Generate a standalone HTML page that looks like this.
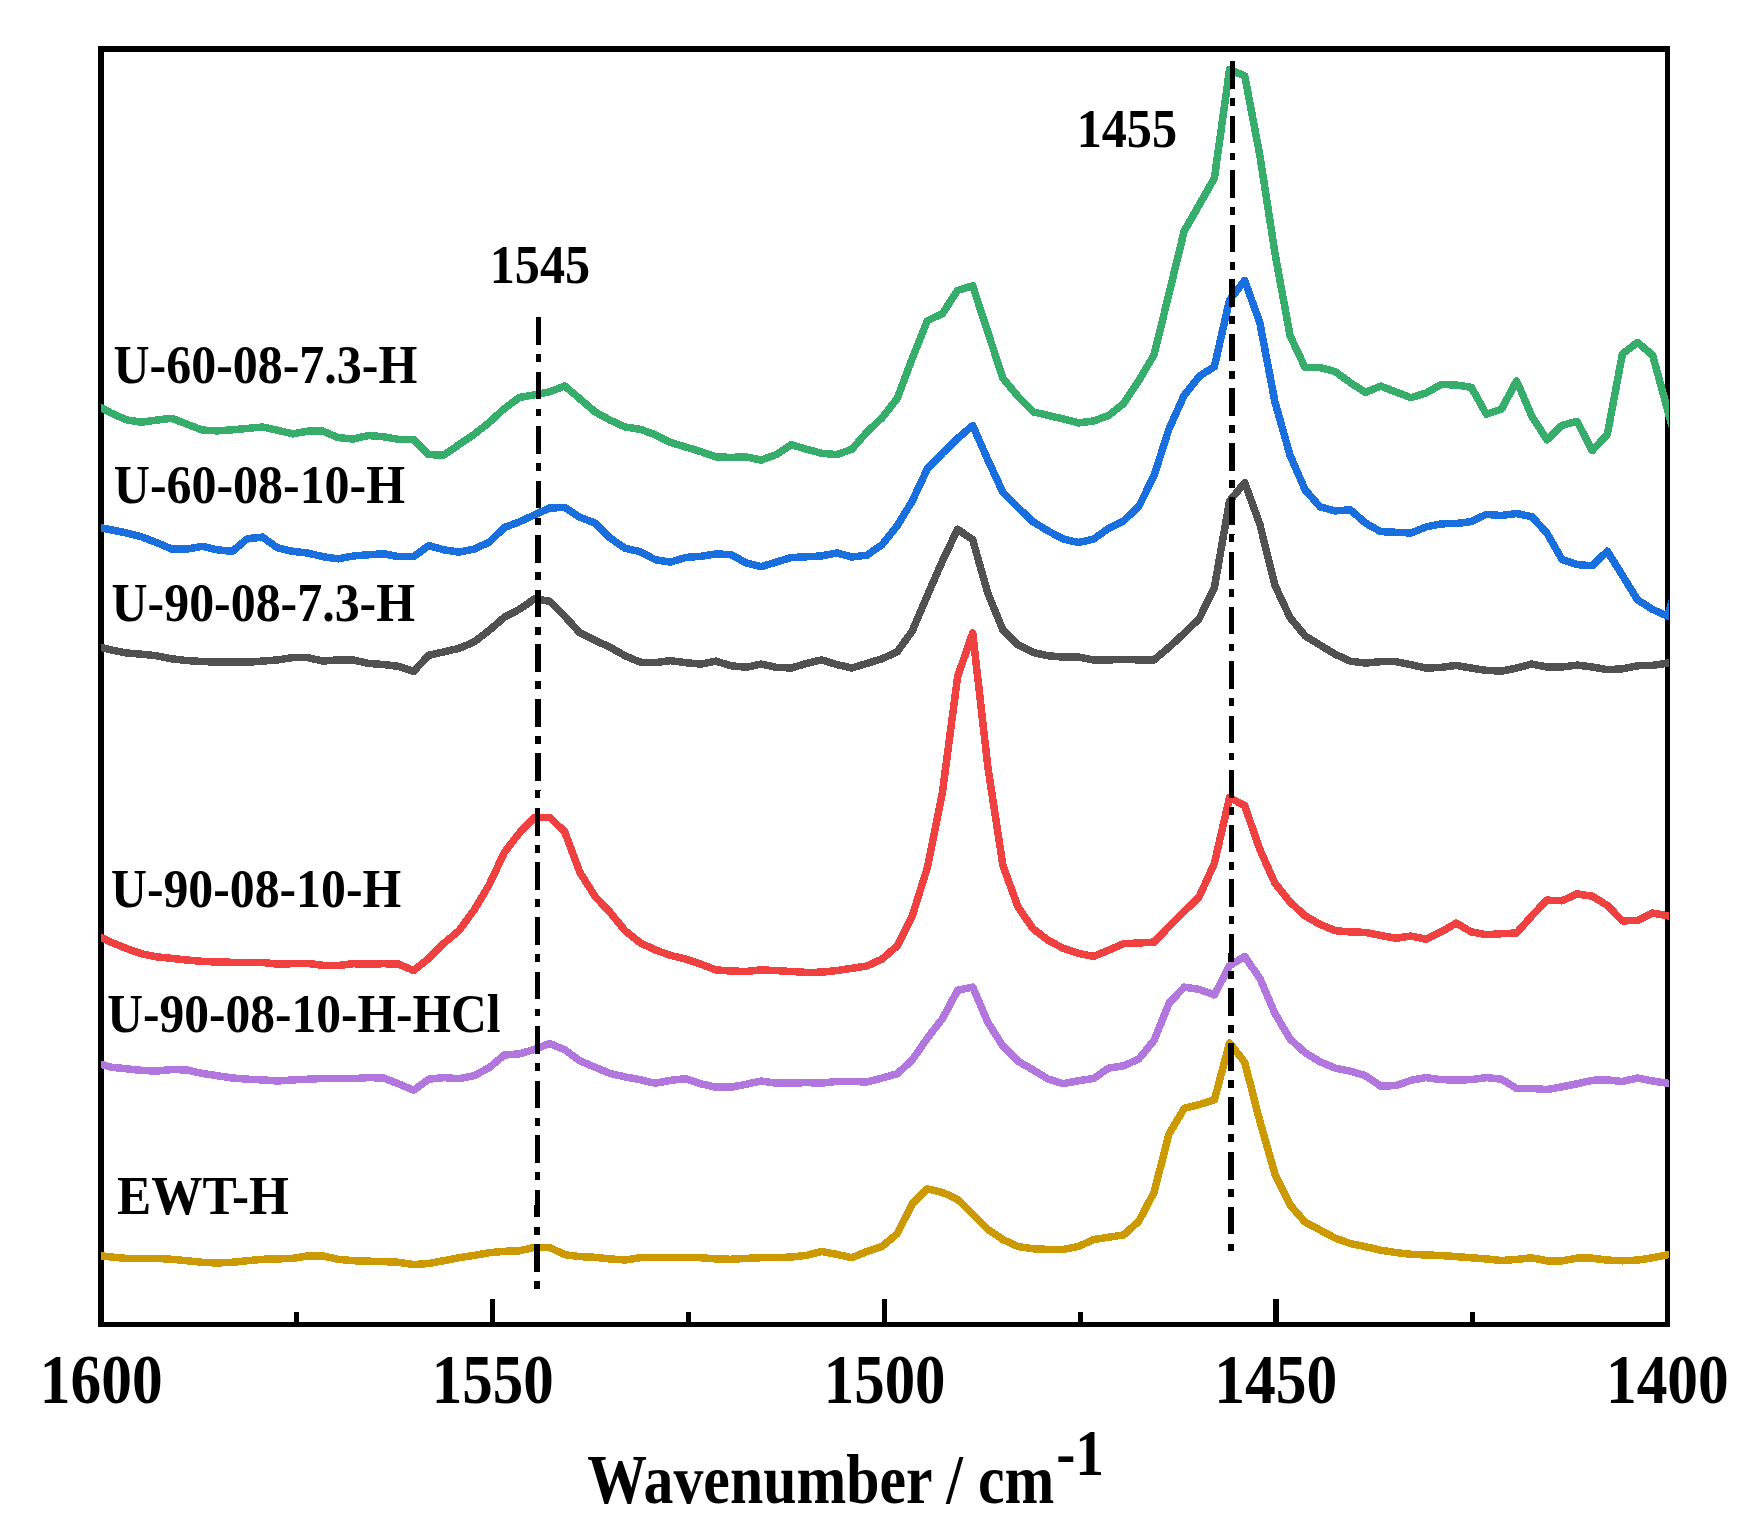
<!DOCTYPE html>
<html lang="en">
<head>
<meta charset="utf-8">
<title>FTIR spectra</title>
<style>
html,body{margin:0;padding:0;background:#ffffff;}
svg{display:block;}
text{font-family:'Liberation Serif','Times New Roman',serif;font-weight:bold;fill:#000;}
</style>
</head>
<body>
<svg width="1738" height="1525" viewBox="0 0 1738 1525">
<rect x="0" y="0" width="1738" height="1525" fill="#ffffff"/>
<defs><clipPath id="plot"><rect x="101.00" y="46.00" width="1568.00" height="1281.00"/></clipPath></defs>
<g fill="#000">
<rect x="98" y="46" width="6" height="1281"/>
<rect x="1665" y="46" width="5" height="1281"/>
<rect x="98" y="46" width="1572" height="6"/>
<rect x="98" y="1322" width="1572" height="5"/>
<rect x="490" y="1299" width="5" height="25"/>
<rect x="882" y="1299" width="5" height="25"/>
<rect x="1273" y="1299" width="6" height="25"/>
<rect x="294" y="1312" width="5" height="12"/>
<rect x="686" y="1312" width="5" height="12"/>
<rect x="1078" y="1312" width="5" height="12"/>
<rect x="1470" y="1312" width="5" height="12"/>
</g>
<g clip-path="url(#plot)" shape-rendering="crispEdges" fill="none" stroke-width="7.5" stroke-linejoin="round" stroke-linecap="butt">
<polyline stroke="#CC9900" points="96.3,1255.4 111.4,1257.0 126.5,1258.4 141.6,1258.4 156.7,1258.4 171.8,1259.3 187.0,1260.7 202.1,1262.3 217.2,1263.0 232.3,1262.3 247.4,1260.7 262.5,1259.3 277.6,1258.9 292.7,1258.4 307.8,1255.9 322.9,1255.9 338.1,1259.3 353.2,1260.7 368.3,1261.2 383.4,1261.6 398.5,1262.3 413.6,1264.6 428.7,1263.5 443.8,1260.7 458.9,1257.7 474.1,1255.4 489.2,1252.7 504.3,1251.3 519.4,1250.8 534.5,1247.4 549.6,1247.4 564.7,1254.7 579.8,1256.6 594.9,1257.3 610.0,1258.9 625.1,1260.0 640.3,1257.7 655.4,1257.3 670.5,1257.3 685.6,1257.3 700.7,1257.7 715.8,1258.9 730.9,1259.3 746.0,1258.4 761.1,1257.7 776.2,1257.7 791.4,1257.0 806.5,1255.4 821.6,1251.5 836.7,1254.3 851.8,1257.7 866.9,1251.5 882.0,1246.5 897.1,1233.8 912.2,1203.9 927.3,1188.9 942.5,1192.4 957.6,1199.3 972.7,1214.2 987.8,1229.2 1002.9,1239.6 1018.0,1246.5 1033.1,1248.8 1048.2,1249.4 1063.3,1249.4 1078.5,1246.5 1093.6,1239.6 1108.7,1237.2 1123.8,1234.9 1138.9,1221.1 1154.0,1192.4 1169.1,1133.7 1184.2,1108.4 1199.3,1104.5 1214.4,1099.9 1229.5,1042.8 1244.7,1062.3 1259.8,1121.0 1274.9,1174.0 1290.0,1204.8 1305.1,1222.1 1320.2,1230.1 1335.3,1238.2 1350.4,1243.5 1365.5,1246.7 1380.6,1250.2 1395.8,1252.5 1410.9,1254.3 1426.0,1255.0 1441.1,1255.5 1456.2,1256.6 1471.3,1257.8 1486.4,1258.9 1501.5,1260.5 1516.6,1259.4 1531.8,1257.8 1546.9,1260.8 1562.0,1260.8 1577.1,1258.2 1592.2,1258.2 1607.3,1260.1 1622.4,1260.8 1637.5,1260.1 1652.6,1257.8 1667.7,1254.8 1682.8,1251.8"/>
<polyline stroke="#B177DE" points="96.3,1063.1 111.4,1067.2 126.5,1068.8 141.6,1070.4 156.7,1071.1 171.8,1069.5 187.0,1070.0 202.1,1073.4 217.2,1075.7 232.3,1078.0 247.4,1079.2 262.5,1079.9 277.6,1081.0 292.7,1079.9 307.8,1079.2 322.9,1078.5 338.1,1078.5 353.2,1078.7 368.3,1077.6 383.4,1078.0 398.5,1083.8 413.6,1090.2 428.7,1079.2 443.8,1077.6 458.9,1078.7 474.1,1075.7 489.2,1067.7 504.3,1055.0 519.4,1053.9 534.5,1049.3 549.6,1043.5 564.7,1049.7 579.8,1060.8 594.9,1067.2 610.0,1073.4 625.1,1076.9 640.3,1079.7 655.4,1083.3 670.5,1080.3 685.6,1078.7 700.7,1083.8 715.8,1087.2 730.9,1087.2 746.0,1084.3 761.1,1081.0 776.2,1083.1 791.4,1083.1 806.5,1082.6 821.6,1083.1 836.7,1081.5 851.8,1081.5 866.9,1082.0 882.0,1078.0 897.1,1073.8 912.2,1060.0 927.3,1038.2 942.5,1018.6 957.6,990.3 972.7,987.1 987.8,1022.1 1002.9,1046.2 1018.0,1061.2 1033.1,1069.9 1048.2,1079.1 1063.3,1083.7 1078.5,1080.7 1093.6,1078.4 1108.7,1068.1 1123.8,1065.8 1138.9,1058.9 1154.0,1040.5 1169.1,1003.2 1184.2,987.1 1199.3,989.4 1214.4,994.9 1229.5,965.7 1244.7,956.5 1259.8,978.3 1274.9,1013.3 1290.0,1038.9 1305.1,1052.7 1320.2,1061.9 1335.3,1068.1 1350.4,1071.1 1365.5,1075.7 1380.6,1086.1 1395.8,1085.6 1410.9,1080.3 1426.0,1077.6 1441.1,1079.7 1456.2,1079.9 1471.3,1079.7 1486.4,1077.6 1501.5,1079.2 1516.6,1088.4 1531.8,1088.4 1546.9,1089.6 1562.0,1086.8 1577.1,1083.8 1592.2,1080.3 1607.3,1079.9 1622.4,1081.5 1637.5,1078.0 1652.6,1081.0 1667.7,1083.3 1682.8,1085.6"/>
<polyline stroke="#F14040" points="96.3,935.4 111.4,942.3 126.5,948.5 141.6,953.8 156.7,956.8 171.8,958.4 187.0,960.0 202.1,961.4 217.2,962.0 232.3,962.3 247.4,962.3 262.5,962.5 277.6,964.1 292.7,963.7 307.8,963.4 322.9,965.3 338.1,965.5 353.2,963.7 368.3,964.1 383.4,963.7 398.5,964.1 413.6,970.6 428.7,958.4 443.8,943.4 458.9,930.7 474.1,910.0 489.2,884.7 504.3,852.5 519.4,832.9 534.5,817.3 549.6,817.3 564.7,831.8 579.8,872.1 594.9,896.2 610.0,912.3 625.1,930.7 640.3,942.9 655.4,949.9 670.5,955.4 685.6,959.1 700.7,964.1 715.8,969.9 730.9,971.0 746.0,971.5 761.1,969.9 776.2,970.6 791.4,971.5 806.5,972.4 821.6,972.2 836.7,970.6 851.8,968.3 866.9,966.0 882.0,959.1 897.1,946.0 912.2,916.1 927.3,867.8 942.5,791.8 957.6,676.7 972.7,633.0 987.8,766.5 1002.9,865.5 1018.0,906.9 1033.1,928.8 1048.2,940.3 1063.3,948.3 1078.5,953.4 1093.6,956.4 1108.7,950.2 1123.8,943.7 1138.9,943.0 1154.0,942.1 1169.1,926.5 1184.2,911.5 1199.3,896.5 1214.4,863.2 1229.5,797.6 1244.7,805.6 1259.8,849.4 1274.9,883.1 1290.0,902.0 1305.1,915.8 1320.2,924.5 1335.3,930.7 1350.4,931.9 1365.5,932.4 1380.6,935.4 1395.8,938.3 1410.9,936.0 1426.0,939.3 1441.1,931.9 1456.2,923.2 1471.3,931.9 1486.4,934.7 1501.5,933.7 1516.6,933.0 1531.8,915.8 1546.9,900.1 1562.0,900.8 1577.1,893.9 1592.2,896.2 1607.3,905.4 1622.4,920.9 1637.5,920.4 1652.6,913.0 1667.7,915.8 1682.8,918.6"/>
<polyline stroke="#515151" points="96.3,646.1 111.4,650.0 126.5,653.0 141.6,654.2 156.7,655.8 171.8,658.8 187.0,660.6 202.1,661.5 217.2,662.2 232.3,662.2 247.4,662.2 262.5,661.1 277.6,659.9 292.7,657.6 307.8,657.6 322.9,661.1 338.1,659.9 353.2,659.9 368.3,663.4 383.4,664.5 398.5,666.4 413.6,671.4 428.7,655.3 443.8,651.9 458.9,648.4 474.1,642.0 489.2,630.4 504.3,617.3 519.4,609.3 534.5,598.9 549.6,601.2 564.7,616.2 579.8,632.8 594.9,640.3 610.0,647.2 625.1,655.8 640.3,662.2 655.4,662.7 670.5,660.6 685.6,662.7 700.7,664.1 715.8,661.1 730.9,665.7 746.0,667.3 761.1,664.1 776.2,667.3 791.4,668.0 806.5,663.4 821.6,659.9 836.7,664.5 851.8,668.0 866.9,663.4 882.0,658.8 897.1,651.9 912.2,631.1 927.3,595.5 942.5,560.9 957.6,529.2 972.7,539.8 987.8,593.2 1002.9,630.0 1018.0,644.9 1033.1,652.5 1048.2,655.8 1063.3,657.1 1078.5,657.1 1093.6,659.9 1108.7,659.9 1123.8,659.4 1138.9,659.9 1154.0,659.9 1169.1,647.2 1184.2,633.4 1199.3,618.5 1214.4,587.4 1229.5,501.1 1244.7,482.7 1259.8,524.1 1274.9,585.3 1290.0,617.5 1305.1,635.9 1320.2,645.1 1335.3,654.3 1350.4,661.2 1365.5,663.1 1380.6,661.7 1395.8,661.7 1410.9,664.7 1426.0,668.1 1441.1,667.4 1456.2,665.4 1471.3,668.1 1486.4,670.4 1501.5,671.1 1516.6,668.1 1531.8,664.0 1546.9,667.0 1562.0,667.0 1577.1,665.1 1592.2,667.0 1607.3,669.7 1622.4,668.8 1637.5,665.8 1652.6,665.4 1667.7,663.1 1682.8,660.8"/>
<polyline stroke="#1A6FDF" points="96.3,526.9 111.4,529.9 126.5,532.9 141.6,536.9 156.7,542.6 171.8,549.1 187.0,549.1 202.1,546.3 217.2,549.8 232.3,551.4 247.4,538.7 262.5,537.1 277.6,547.9 292.7,551.4 307.8,553.0 322.9,556.7 338.1,558.8 353.2,556.0 368.3,554.8 383.4,553.7 398.5,556.7 413.6,556.7 428.7,545.6 443.8,549.8 458.9,552.1 474.1,549.1 489.2,542.2 504.3,527.6 519.4,521.8 534.5,514.9 549.6,508.0 564.7,507.5 579.8,517.2 594.9,523.0 610.0,537.9 625.1,548.3 640.3,551.7 655.4,559.8 670.5,562.1 685.6,557.5 700.7,556.3 715.8,554.0 730.9,554.5 746.0,562.8 761.1,566.7 776.2,562.1 791.4,557.5 806.5,556.8 821.6,555.9 836.7,552.9 851.8,557.0 866.9,555.2 882.0,544.8 897.1,526.0 912.2,501.1 927.3,468.9 942.5,453.2 957.6,438.5 972.7,425.6 987.8,459.7 1002.9,492.4 1018.0,507.5 1033.1,521.8 1048.2,531.0 1063.3,539.1 1078.5,542.5 1093.6,539.1 1108.7,528.3 1123.8,520.7 1138.9,506.2 1154.0,475.8 1169.1,428.6 1184.2,395.2 1199.3,376.4 1214.4,366.5 1229.5,300.1 1244.7,280.5 1259.8,322.6 1274.9,401.8 1290.0,455.2 1305.1,489.8 1320.2,507.0 1335.3,510.9 1350.4,509.8 1365.5,523.1 1380.6,531.6 1395.8,532.3 1410.9,533.0 1426.0,527.0 1441.1,523.8 1456.2,523.6 1471.3,521.5 1486.4,514.4 1501.5,515.5 1516.6,513.5 1531.8,516.7 1546.9,533.0 1562.0,559.5 1577.1,564.6 1592.2,565.7 1607.3,551.2 1622.4,575.4 1637.5,599.8 1652.6,609.4 1667.7,616.3 1682.8,563.3"/>
<polyline stroke="#37AD6B" points="96.3,405.1 111.4,413.2 126.5,419.9 141.6,422.2 156.7,420.1 171.8,418.3 187.0,424.2 202.1,430.0 217.2,430.9 232.3,429.8 247.4,428.4 262.5,427.0 277.6,430.2 292.7,433.9 307.8,431.1 322.9,431.1 338.1,437.6 353.2,439.0 368.3,435.5 383.4,436.7 398.5,439.4 413.6,439.4 428.7,454.6 443.8,455.1 458.9,444.7 474.1,434.4 489.2,422.4 504.3,408.6 519.4,397.5 534.5,394.8 549.6,391.8 564.7,386.0 579.8,398.7 594.9,411.8 610.0,420.1 625.1,427.0 640.3,429.3 655.4,434.8 670.5,442.4 685.6,447.0 700.7,451.6 715.8,456.9 730.9,457.4 746.0,456.9 761.1,460.1 776.2,454.6 791.4,444.7 806.5,449.3 821.6,453.2 836.7,454.6 851.8,449.3 866.9,432.1 882.0,417.8 897.1,398.7 912.2,358.4 927.3,320.8 942.5,313.4 957.6,290.4 972.7,285.8 987.8,332.1 1002.9,378.3 1018.0,396.4 1033.1,411.8 1048.2,415.5 1063.3,418.9 1078.5,422.9 1093.6,421.0 1108.7,415.5 1123.8,403.3 1138.9,380.3 1154.0,355.0 1169.1,293.2 1184.2,231.0 1199.3,204.6 1214.4,178.1 1229.5,69.7 1244.7,75.7 1259.8,155.1 1274.9,252.7 1290.0,335.5 1305.1,367.7 1320.2,367.7 1335.3,371.6 1350.4,382.7 1365.5,392.4 1380.6,386.1 1395.8,391.9 1410.9,397.7 1426.0,393.0 1441.1,384.5 1456.2,385.0 1471.3,387.3 1486.4,414.2 1501.5,409.2 1516.6,380.9 1531.8,416.1 1546.9,439.8 1562.0,425.3 1577.1,421.4 1592.2,450.6 1607.3,434.5 1622.4,353.9 1637.5,342.4 1652.6,355.1 1667.7,410.3 1682.8,465.5"/>
</g>
<line x1="538.50" y1="317.00" x2="537.10" y2="1288.90" stroke="#000" shape-rendering="crispEdges" stroke-width="5.4" stroke-dasharray="27.7 9.3 7.85 9.70"/>
<line x1="1232.50" y1="61.05" x2="1230.80" y2="1251.70" stroke="#000" shape-rendering="crispEdges" stroke-width="5.4" stroke-dasharray="27.7 9.3 7.85 9.70"/>
<text transform="translate(113.55 383.00) scale(0.9000 1)" font-size="55.50">U-60-08-7.3-H</text>
<text transform="translate(113.85 502.70) scale(0.8999 1)" font-size="55.50">U-60-08-10-H</text>
<text transform="translate(111.55 620.80) scale(0.8994 1)" font-size="55.50">U-90-08-7.3-H</text>
<text transform="translate(110.95 907.00) scale(0.8968 1)" font-size="55.50">U-90-08-10-H</text>
<text transform="translate(107.16 1032.00) scale(0.8928 1)" font-size="55.50">U-90-08-10-H-HCl</text>
<text transform="translate(117.08 1213.90) scale(0.9237 1)" font-size="55.50">EWT-H</text>
<text transform="translate(489.73 282.90) scale(0.9043 1)" font-size="55.50">1545</text>
<text transform="translate(1076.63 147.00) scale(0.9053 1)" font-size="55.50">1455</text>
<text transform="translate(39.84 1403.20) scale(0.8841 1)" font-size="69.50">1600</text>
<text transform="translate(431.67 1403.20) scale(0.8780 1)" font-size="69.50">1550</text>
<text transform="translate(823.78 1403.20) scale(0.8757 1)" font-size="69.50">1500</text>
<text transform="translate(1214.23 1403.20) scale(0.8857 1)" font-size="69.50">1450</text>
<text transform="translate(1605.94 1403.20) scale(0.8834 1)" font-size="69.50">1400</text>
<text transform="translate(587.13 1502.70) scale(0.8663 1)" font-size="69.00">Wavenumber / cm</text>
<text transform="translate(1056.13 1475.10) scale(0.8670 1)" font-size="66.30">-1</text>
</svg>
</body>
</html>
